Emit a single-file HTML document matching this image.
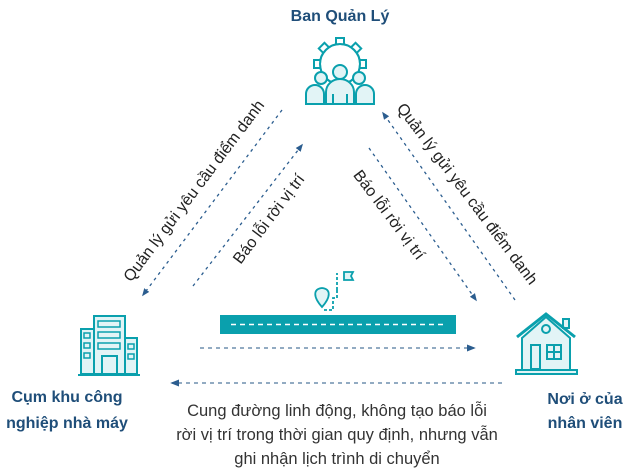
<!DOCTYPE html>
<html><head><meta charset="utf-8"><style>
body{margin:0;background:#fff;width:626px;height:470px;overflow:hidden;font-family:"Liberation Sans",Arial,sans-serif}
</style></head><body>
<svg width="626" height="470" viewBox="0 0 626 470" xmlns="http://www.w3.org/2000/svg">
<defs>
<marker id="a" viewBox="0 0 10 10" refX="8" refY="5" markerWidth="6" markerHeight="6" orient="auto"><path d="M0,1 L10,5 L0,9 Z" fill="#2b5d8f"/></marker>
</defs>
<g font-family="Liberation Sans, Arial, sans-serif" font-weight="bold" fill="#1f4e79" font-size="16" text-anchor="middle">
<text x="340" y="21">Ban Quản Lý</text>
<text x="67" y="402">Cụm khu công</text>
<text x="67" y="428">nghiệp nhà máy</text>
<text x="585" y="404">Nơi ở của</text>
<text x="585" y="428">nhân viên</text>
</g>
<g fill="#333" font-size="16.5" text-anchor="middle" font-family="Liberation Sans, Arial, sans-serif">
<text x="337" y="416">Cung đường linh động, không tạo báo lỗi</text>
<text x="337" y="440">rời vị trí trong thời gian quy định, nhưng vẫn</text>
<text x="337" y="464">ghi nhận lịch trình di chuyển</text>
</g>
<g stroke="#2b5d8f" stroke-width="1.3" stroke-dasharray="3,4" fill="none" marker-end="url(#a)">
<line x1="282" y1="110" x2="143" y2="295"/>
<line x1="193" y1="286" x2="302" y2="145"/>
<line x1="369" y1="148" x2="476" y2="300"/>
<line x1="515" y1="300" x2="383" y2="113"/>
</g>
<g stroke="#6f8fae" stroke-width="1.5" stroke-dasharray="4,4" fill="none" marker-end="url(#a)">
<line x1="200" y1="348" x2="474" y2="348"/>
<line x1="502" y1="383" x2="172" y2="383"/>
</g>
<g fill="#222" font-size="16" font-family="Liberation Sans, Arial, sans-serif" text-anchor="middle">
<text transform="translate(198,194) rotate(-53)">Quản lý gửi yêu cầu điểm danh</text>
<text transform="translate(273,222) rotate(-53)">Báo lỗi rời vị trí</text>
<text transform="translate(385,218) rotate(53)">Báo lỗi rời vị trí</text>
<text transform="translate(463,197) rotate(53)">Quản lý gửi yêu cầu điểm danh</text>
</g>
<!-- road -->
<rect x="220" y="315" width="236" height="19" fill="#0aa0ad"/>
<line x1="231" y1="324.5" x2="446" y2="324.5" stroke="#fff" stroke-width="1.5" stroke-dasharray="5,4"/>
<g stroke="#0aa0ad" stroke-width="1.8" fill="#e2f4f6">
<path d="M322,307 C313,297 313,289 322,288 C331,289 331,297 322,307 Z"/>
<path d="M324,310 h9 v-12 h4 v-8 M337,290 v-17" fill="none" stroke-dasharray="3,2"/>
<path d="M344,272 h9 l-2,4 2,4 h-9 Z"/>
</g>
<!-- gear people -->
<g stroke="#0aa0ad" stroke-width="2" fill="#fff">
<g transform="translate(340,64)">
<circle r="20" fill="none"/>
<g fill="#fff">
<rect x="-4" y="-26" width="8" height="7"/>
<rect x="-4" y="-26" width="8" height="7" transform="rotate(45)"/>
<rect x="-4" y="-26" width="8" height="7" transform="rotate(-45)"/>
<rect x="-4" y="-26" width="8" height="7" transform="rotate(90)"/>
<rect x="-4" y="-26" width="8" height="7" transform="rotate(-90)"/>
</g>
<circle r="19" stroke="none"/>
<circle r="20" fill="none"/>
</g>
<circle cx="321" cy="78" r="6" fill="#e2f4f6"/><circle cx="359" cy="78" r="6" fill="#e2f4f6"/>
<path d="M306,104 v-10 a9,9 0 0 1 18,0 v10 Z" fill="#e2f4f6"/>
<path d="M356,104 v-10 a9,9 0 0 1 18,0 v10 Z" fill="#e2f4f6"/>
<circle cx="340" cy="72" r="7" fill="#e2f4f6"/>
<path d="M326,104 v-12 a14,13 0 0 1 28,0 v12 Z" fill="#e2f4f6"/>
<line x1="333" y1="94" x2="333" y2="104"/><line x1="347" y1="94" x2="347" y2="104"/>
</g>
<!-- building -->
<g stroke="#0aa0ad" stroke-width="2" fill="#e2f4f6">
<rect x="94" y="316" width="31" height="58"/>
<rect x="81" y="329" width="13" height="45"/>
<rect x="125" y="338" width="12" height="36"/>
<rect x="102" y="356" width="15" height="18"/>
<line x1="78" y1="375" x2="140" y2="375"/>
<g stroke-width="1.5"><rect x="98" y="321" width="22" height="6"/><rect x="98" y="332" width="22" height="6"/><rect x="98" y="343" width="22" height="6"/>
<rect x="84" y="333" width="6" height="5"/><rect x="84" y="343" width="6" height="5"/><rect x="84" y="353" width="6" height="5"/>
<rect x="128" y="344" width="6" height="5"/><rect x="128" y="354" width="6" height="5"/></g>
</g>
<!-- house -->
<g stroke="#0aa0ad" stroke-width="2" fill="#e2f4f6">
<rect x="563" y="319" width="6" height="9"/>
<path d="M522,338 L546,317 L570,338 V370 H522 Z"/>
<path d="M517,337 L546,314 L575,337" fill="none" stroke-width="3"/>
<circle cx="546" cy="329" r="4"/>
<rect x="531" y="345" width="9" height="24"/>
<rect x="547" y="345" width="14" height="14"/>
<line x1="554" y1="345" x2="554" y2="359"/><line x1="547" y1="352" x2="561" y2="352"/>
<rect x="516" y="370" width="61" height="4"/>
</g>
</svg>
</body></html>
